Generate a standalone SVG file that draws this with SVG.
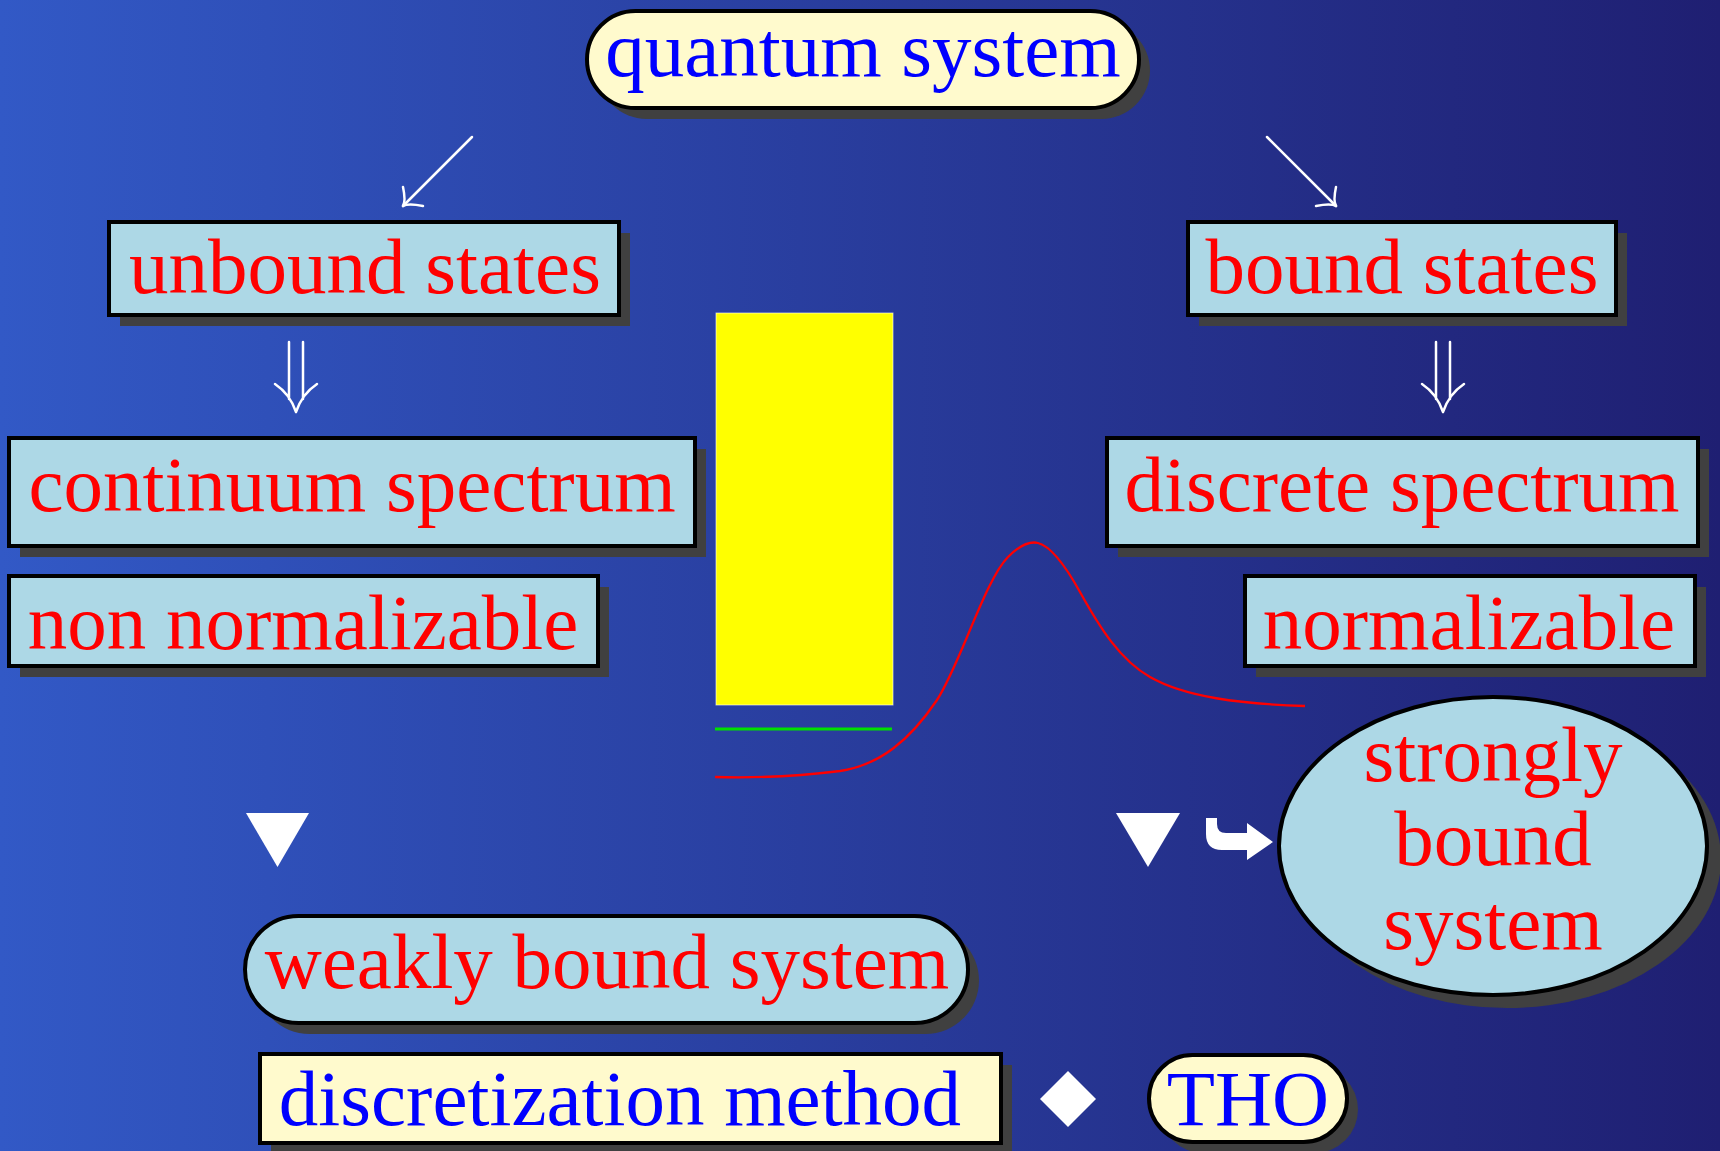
<svg xmlns="http://www.w3.org/2000/svg" width="1720" height="1151" viewBox="0 0 1720 1151">
<defs>
<linearGradient id="bg" x1="0" y1="0" x2="1" y2="0">
<stop offset="0" stop-color="#3259C6"/>
<stop offset="1" stop-color="#1F1F72"/>
</linearGradient>
</defs>
<style>
.sh{fill:#404040}
.blue{fill:#ADD8E6;stroke:#000;stroke-width:4}
.cream{fill:#FFFACD;stroke:#000;stroke-width:4}
text{font-family:"Liberation Serif","Times New Roman",serif;font-size:79px;text-anchor:middle}
.r{fill:#FF0000}
.b{fill:#0000FF}
.arr{fill:none;stroke:#fff;stroke-width:2.5;stroke-linecap:round}
.wf{fill:#fff}
</style>
<rect width="1720" height="1151" fill="url(#bg)"/>

<g id="quantum-system">
<rect class="sh" x="598" y="22" width="552" height="97" rx="48.5"/>
<rect class="cream" x="587" y="11" width="552" height="97" rx="48.5"/>
<text class="b" x="863" y="76">quantum system</text>
</g>

<g id="unbound-states">
<rect class="sh" x="120" y="233" width="510" height="93"/>
<rect class="blue" x="109" y="222" width="510" height="93"/>
<text class="r" x="365" y="293">unbound states</text>
</g>

<g id="bound-states">
<rect class="sh" x="1199" y="233" width="428" height="93"/>
<rect class="blue" x="1188" y="222" width="428" height="93"/>
<text class="r" x="1402" y="293">bound states</text>
</g>

<g id="continuum-spectrum">
<rect class="sh" x="20" y="449" width="686" height="108"/>
<rect class="blue" x="9" y="438" width="686" height="108"/>
<text class="r" x="352" y="511">continuum spectrum</text>
</g>

<g id="discrete-spectrum">
<rect class="sh" x="1118" y="449" width="591" height="108"/>
<rect class="blue" x="1107" y="438" width="591" height="108"/>
<text class="r" x="1402" y="511">discrete spectrum</text>
</g>

<g id="non-normalizable">
<rect class="sh" x="20" y="587" width="589" height="90"/>
<rect class="blue" x="9" y="576" width="589" height="90"/>
<text class="r" x="303" y="649">non normalizable</text>
</g>

<g id="normalizable">
<rect class="sh" x="1256" y="587" width="450" height="90"/>
<rect class="blue" x="1245" y="576" width="450" height="90"/>
<text class="r" x="1469" y="649">normalizable</text>
</g>

<g id="potential-well">
<rect x="716" y="313" width="177" height="392" fill="#FFFF00" stroke="#ffffff" stroke-opacity="0.6" stroke-width="1"/>
<line x1="715" y1="729" x2="892" y2="729" stroke="#00E000" stroke-width="3"/>
<path d="M715,777 C750,778 800,776 840,771 C880,765 910,740 937,700 C960,665 985,580 1008,557 C1020,545 1030,541 1038,543 C1050,546 1065,565 1080,592 C1100,628 1120,660 1150,677 C1185,697 1240,704 1305,706" fill="none" stroke="#FF0000" stroke-width="2.3"/>
</g>

<g id="strongly-bound-system">
<ellipse class="sh" cx="1507" cy="859" rx="214" ry="149"/>
<ellipse class="blue" cx="1493" cy="846" rx="214" ry="149"/>
<text class="r" x="1493" y="781">strongly</text>
<text class="r" x="1493" y="865">bound</text>
<text class="r" x="1493" y="949">system</text>
</g>

<g id="weakly-bound-system">
<rect class="sh" x="256" y="927" width="723" height="107" rx="53.5"/>
<rect class="blue" x="245" y="916" width="723" height="107" rx="53.5"/>
<text class="r" x="607" y="988">weakly bound system</text>
</g>

<g id="discretization-method">
<rect class="sh" x="271" y="1065" width="741" height="89"/>
<rect class="cream" x="260" y="1054" width="741" height="89"/>
<text class="b" x="620" y="1125">discretization method</text>
</g>

<g id="tho">
<rect class="sh" x="1160" y="1066" width="198" height="87" rx="43.5"/>
<rect class="cream" x="1149" y="1055" width="198" height="87" rx="43.5"/>
<text class="b" x="1248" y="1125">THO</text>
</g>

<g id="connectors">
<line class="arr" x1="472" y1="137" x2="403" y2="206"/>
<path class="arr" d="M403,187 Q406,201 403,206 M423,206 Q408,203 403,206"/>
<line class="arr" x1="1267" y1="137" x2="1336" y2="206"/>
<path class="arr" d="M1336,187 Q1333,201 1336,206 M1316,206 Q1331,203 1336,206"/>
<path class="arr" d="M289,342 V399 M303,342 V399 M275,384 Q290,394 296,412 M317,384 Q302,394 296,412"/>
<path class="arr" d="M1436,342 V399 M1450,342 V399 M1422,384 Q1437,394 1443,412 M1464,384 Q1449,394 1443,412"/>
<polygon class="wf" points="246,813 309,813 277.5,867"/>
<polygon class="wf" points="1116,813 1180,813 1148,867"/>
<path class="wf" d="M1206,818 L1217,818 L1217,824 Q1217,833 1226,833 L1247,833 L1247,823 L1273,842 L1247,860 L1247,850 L1222,850 Q1206,850 1206,834 Z"/>
<polygon class="wf" points="1068,1071 1096,1099 1068,1127 1040,1099"/>
</g>
</svg>
